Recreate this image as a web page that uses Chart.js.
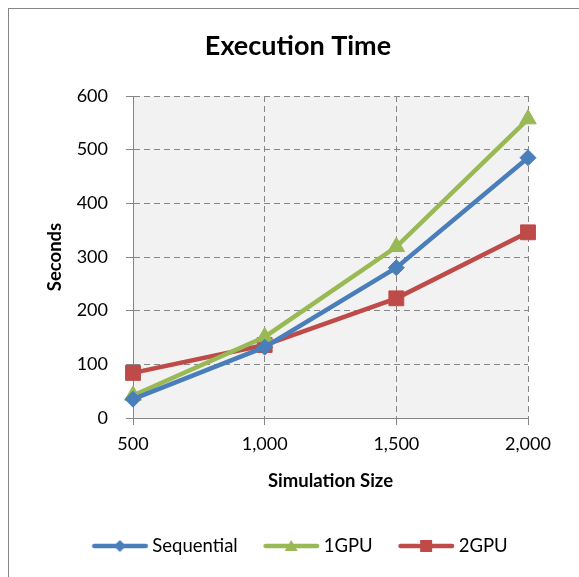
<!DOCTYPE html>
<html>
<head>
<meta charset="utf-8">
<script src="https://cdn.jsdelivr.net/npm/chart.js@4/dist/chart.umd.min.js"></script>
<style>
  html, body { margin: 0; padding: 0; background: #fff; }
  #wrap { width: 579px; height: 577px; position: relative; }
</style>
</head>
<body>
<div id="wrap"><canvas id="c" width="579" height="577"></canvas></div>
<script>
const categories = ['500', '1,000', '1,500', '2,000'];
const sequential = [35, 132, 280, 485];
const gpu1 = [42, 151, 319, 557];
const gpu2 = [84, 136, 223, 346];
const seriesNames = ['Sequential', '1GPU', '2GPU'];
const yTicks = [0, 100, 200, 300, 400, 500, 600];

const colors = ['#4A7EBB', '#98B954', '#BE4B48'];
const styles = ['rectRot', 'triangle', 'rect'];
const radii = [8, 9.5, 10.5];

const FONT = 'Lato, "Open Sans", sans-serif';

function legendIcon(color, style) {
  const cv = document.createElement('canvas');
  cv.width = 66; cv.height = 16;
  const g = cv.getContext('2d');
  g.strokeStyle = color; g.fillStyle = color; g.lineWidth = 4.5; g.lineCap = 'round';
  g.beginPath(); g.moveTo(11.5, 8); g.lineTo(63, 8); g.stroke();
  const cx = 37.1, cy = 8;
  g.beginPath();
  if (style === 'rectRot') {
    g.moveTo(cx, cy - 6); g.lineTo(cx + 6, cy); g.lineTo(cx, cy + 6); g.lineTo(cx - 6, cy); g.closePath();
  } else if (style === 'triangle') {
    g.moveTo(cx, cy - 6); g.lineTo(cx + 6.5, cy + 5); g.lineTo(cx - 6.5, cy + 5); g.closePath();
  } else {
    g.rect(cx - 6, cy - 6, 12, 12);
  }
  g.fill();
  return cv;
}

const icons = colors.map((c, i) => legendIcon(c, styles[i]));

const bgPlugin = {
  id: 'bg',
  beforeDraw(chart) {
    const { ctx, chartArea: a } = chart;
    ctx.save();
    ctx.fillStyle = '#F2F2F2';
    ctx.fillRect(a.left, a.top, a.right - a.left, a.bottom - a.top);
    ctx.strokeStyle = '#868686';
    ctx.lineWidth = 1;
    ctx.strokeRect(8.5, 8.5, 700, 700);
    ctx.restore();
  }
};

const data = {
  labels: categories,
  datasets: [sequential, gpu1, gpu2].map((vals, i) => ({
    label: seriesNames[i],
    data: vals,
    borderColor: colors[i],
    backgroundColor: colors[i],
    borderWidth: 4.5,
    pointStyle: styles[i],
    pointRadius: radii[i],
    pointHoverRadius: radii[i],
    pointBorderWidth: 1,
    tension: 0,
    yAxisID: 'y'
  }))
};

new Chart(document.getElementById('c'), {
  type: 'line',
  data,
  plugins: [bgPlugin],
  options: {
    responsive: false,
    animation: false,
    events: [],
    layout: { padding: { left: 17, right: 0, top: 0, bottom: 11.75 } },
    plugins: {
      tooltip: { enabled: false },
      title: {
        display: true,
        text: 'Execution Time',
        color: '#000',
        font: { family: FONT, size: 27, weight: 'bold' },
        padding: { top: 29.8, bottom: 33.8 }
      },
      legend: {
        position: 'bottom',
        labels: {
          usePointStyle: true,
          pointStyleWidth: 54.75,
          padding: 22,
          color: '#000',
          font: { family: FONT, size: 18.5 },
          generateLabels(chart) {
            return chart.data.datasets.map((ds, i) => ({
              text: ds.label,
              pointStyle: icons[i],
              fillStyle: colors[i],
              strokeStyle: colors[i],
              lineWidth: 0,
              hidden: false,
              datasetIndex: i,
              fontColor: '#000'
            }));
          }
        }
      }
    },
    scales: {
      x: {
        type: 'category',
        offset: false,
        afterFit(s) { s.height = 96.75; },
        grid: { color: '#868686', lineWidth: 1, tickLength: 7, tickColor: '#868686', drawTicks: true },
        border: { display: true, color: '#868686', width: 1, dash: [6, 4] },
        ticks: { color: '#000', font: { family: FONT, size: 18 }, padding: 8.2, maxRotation: 0, autoSkip: false },
        title: {
          display: true, text: 'Simulation Size', color: '#000',
          font: { family: FONT, size: 18.5, weight: 'bold' },
          padding: { top: 0, bottom: 22.65 }
        }
      },
      y: {
        position: 'left',
        min: yTicks[0],
        max: yTicks[yTicks.length - 1],
        afterFit(s) { s.width = 116; },
        afterBuildTicks(s) { s.ticks = yTicks.map(v => ({ value: v })); },
        grid: { color: '#868686', lineWidth: 1, tickLength: 7, tickColor: '#868686' },
        border: { display: true, color: '#868686', width: 1, dash: [6, 4] },
        ticks: { color: '#000', font: { family: FONT, size: 18 }, padding: 18 },
        title: {
          display: true, text: 'Seconds', color: '#000',
          font: { family: FONT, size: 18.5, weight: 'bold' },
          padding: { top: 27.4, bottom: 0 }
        }
      },
      y2: {
        position: 'right',
        display: true,
        afterFit(s) { s.width = 51; },
        grid: { display: false, drawTicks: false },
        border: { display: false },
        ticks: { display: false }
      }
    }
  }
});
</script>
</body>
</html>
